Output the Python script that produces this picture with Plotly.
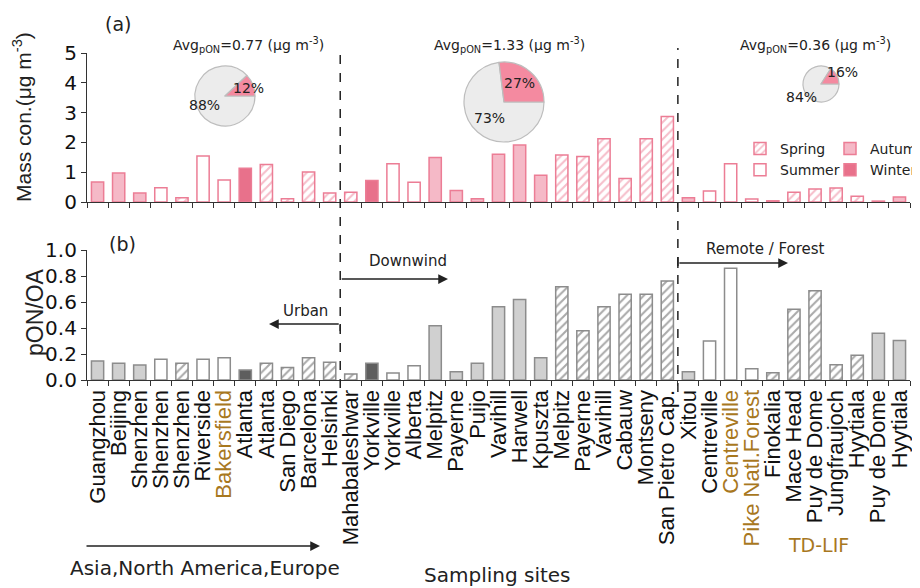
import plotly.graph_objects as go

# ---------------- data ----------------
sites = ["Guangzhou", "Beijing", "Shenzhen", "Shenzhen", "Shenzhen", "Riverside", "Bakersfield",
         "Atlanta", "Atlanta", "San Diego", "Barcelona", "Helsinki",
         "Mahabaleshwar", "Yorkville", "Yorkville", "Alberta", "Melpitz", "Payerne", "Puijo",
         "Vavihill", "Harwell", "Kpuszta", "Melpitz", "Payerne", "Vavihill", "Cabauw",
         "Montseny", "San Pietro Cap.",
         "Xitou", "Centreville", "Centreville", "Pike Natl.Forest", "Finokalia", "Mace Head",
         "Puy de Dome", "Jungfraujoch", "Hyytiala", "Puy de Dome", "Hyytiala"]
highlight_sites = [6, 30, 31]  # TD-LIF sites (brown labels)
seasons = ["Autumn", "Autumn", "Autumn", "Summer", "Spring", "Summer", "Summer", "Winter",
           "Spring", "Spring", "Spring", "Spring",
           "Spring", "Winter", "Summer", "Summer", "Autumn", "Autumn", "Autumn", "Autumn",
           "Autumn", "Autumn", "Spring", "Spring", "Spring", "Spring", "Spring", "Spring",
           "Autumn", "Summer", "Summer", "Summer", "Spring", "Spring", "Spring", "Spring",
           "Spring", "Autumn", "Autumn"]
mass_con = [0.67, 0.97, 0.30, 0.48, 0.14, 1.54, 0.74, 1.13, 1.26, 0.11, 1.01, 0.30,
            0.33, 0.72, 1.28, 0.66, 1.49, 0.39, 0.11, 1.60, 1.91, 0.90, 1.58, 1.53, 2.12,
            0.79, 2.12, 2.87,
            0.14, 0.37, 1.28, 0.10, 0.04, 0.33, 0.44, 0.47, 0.19, 0.03, 0.17]
pon_oa = [0.146, 0.128, 0.115, 0.159, 0.128, 0.159, 0.172, 0.077, 0.128, 0.097, 0.172, 0.136,
          0.046, 0.128, 0.054, 0.110, 0.418, 0.064, 0.128, 0.564, 0.620, 0.172, 0.718, 0.379,
          0.564, 0.659, 0.659, 0.762,
          0.064, 0.300, 0.859, 0.087, 0.056, 0.544, 0.687, 0.118, 0.190, 0.359, 0.303]
group_sizes = [12, 16, 11]
group_avg = [0.77, 1.33, 0.36]
pie_pon_pct = [12, 27, 16]
pie_other_pct = [88, 73, 84]
season_order = ["Spring", "Summer", "Autumn", "Winter"]
season_legend_names = {"Spring": "Spring", "Summer": "Summer", "Autumn": "Autum", "Winter": "Winter"}

# ---------------- layout helpers (page pixel coords) ----------------
PAGE_W, PAGE_H = 920, 588
OFF = 8                      # default body margin of the html page
W_FIG, H_FIG = PAGE_W - OFF, PAGE_H - OFF
L, R, T, B = 87, 910, 53, 380
PW, PH = R - L, B - T
def px_x(p): return (p - L) / PW
def px_y(p): return (B - p) / PH
top_dom = [px_y(202), 1.0]
bot_dom = [0.0, px_y(250)]

PINK = "#ec7d95"
styles_top = {
    "Spring": dict(color="white", pattern=dict(shape="/", fgcolor=PINK, bgcolor="white", size=6, solidity=0.35)),
    "Summer": dict(color="white"),
    "Autumn": dict(color="#f5b9c7"),
    "Winter": dict(color="#e8718b"),
}
GLINE = "#8c8c8c"
styles_bot = {
    "Spring": dict(color="white", pattern=dict(shape="/", fgcolor="#555555", bgcolor="white", size=6, solidity=0.35)),
    "Summer": dict(color="white"),
    "Autumn": dict(color="#d0d0d0"),
    "Winter": dict(color="#5e5e5e"),
}

fig = go.Figure()
BW = 0.58
for s in season_order:
    idx = [i for i, v in enumerate(seasons) if v == s]
    fig.add_trace(go.Bar(
        x=idx, y=[mass_con[i] for i in idx], width=BW, name=season_legend_names[s],
        xaxis="x2", yaxis="y2",
        marker=dict(**styles_top[s], line=dict(color=PINK, width=1.5)),
        legend="legend" if s in ("Spring", "Summer") else "legend2",
        showlegend=True, hoverinfo="skip"))
for s in season_order:
    idx = [i for i, v in enumerate(seasons) if v == s]
    fig.add_trace(go.Bar(
        x=idx, y=[pon_oa[i] for i in idx], width=BW, name=s,
        xaxis="x", yaxis="y",
        marker=dict(**styles_bot[s], line=dict(color=GLINE, width=1.5)),
        showlegend=False, hoverinfo="skip"))

# pies (pON slice ends at 3 o'clock, opening upward)
pie_geom = [(225, 96, 30), (504, 102, 40), (821, 84, 18)]
for k, (cx, cy, r) in enumerate(pie_geom):
    fig.add_trace(go.Pie(
        values=[pie_other_pct[k], pie_pon_pct[k]], labels=["other", "pON"],
        sort=False, direction="clockwise", rotation=90,
        marker=dict(colors=["#ececec", "#f48aa0"], line=dict(color="#bdbdbd", width=1.2)),
        textinfo="none", showlegend=False, hoverinfo="skip",
        domain=dict(x=[px_x(cx - r), px_x(cx + r)], y=[px_y(cy + r), px_y(cy - r)])))

FONT_H = "DejaVu Sans"
FONT_V = "Liberation Sans, Arial"
ann = []
def txt(px, py, text, size, family=FONT_H, color="#222", angle=0):
    ann.append(dict(x=px_x(px), y=px_y(py), xref="paper", yref="paper", showarrow=False,
                    xanchor="center", yanchor="middle", textangle=angle, text=text,
                    font=dict(family=family, size=size, color=color)))

# pie labels
pie_lab_pos = [((248, 88), (204, 105)), ((519, 83), (489, 118)), ((842, 72), (801, 97))]
for k, (p1, p2) in enumerate(pie_lab_pos):
    txt(p1[0], p1[1], f"{pie_pon_pct[k]}%", 14)
    txt(p2[0], p2[1], f"{pie_other_pct[k]}%", 14)
avg_x = [248, 510, 815]
for k, ax_ in enumerate(avg_x):
    txt(ax_, 45, f"Avg<sub>pON</sub>={group_avg[k]:.2f} (μg m<sup>-3</sup>)", 14)
# panel labels
txt(118, 24, "(a)", 19)
txt(122, 244, "(b)", 19)
# y titles
txt(22, 117, "Mass con.(μg m<sup>-3</sup>)", 21, family=FONT_V, angle=-90)
txt(35, 312, "pON/OA", 23, family=FONT_V, angle=-90)
# region labels
txt(305, 311, "Urban", 15)
txt(408, 261, "Downwind", 15)
txt(765, 249, "Remote / Forest", 15)
txt(205, 568, "Asia,North America,Europe", 20)
txt(497, 575, "Sampling sites", 20)
txt(818, 545, "TD-LIF", 19, color="#a8781f")

b1 = group_sizes[0] - 0.5
b2 = group_sizes[0] + group_sizes[1] - 0.5
def ax_x(p): return (p - L) / PW * len(sites) - 0.5
def ax_y(p): return (B - p) / (B - 250)

def arrow(x_head, x_tail, py):
    ann.append(dict(x=x_head, y=ax_y(py), ax=x_tail, ay=ax_y(py), xref="x", yref="y",
                    axref="x", ayref="y", showarrow=True, arrowhead=2, arrowsize=1.3,
                    arrowwidth=1.5, arrowcolor="#222", text=""))
arrow(ax_x(269), b1, 324)
arrow(ax_x(448), b1, 279)
arrow(ax_x(788), b2, 263)
ann.append(dict(x=px_x(320), y=px_y(546), ax=-(320 - 85), ay=0, xref="paper", yref="paper",
                axref="pixel", ayref="pixel", showarrow=True, arrowhead=2, arrowsize=1.3,
                arrowwidth=1.5, arrowcolor="#222", text=""))

shapes = []
for bx, ytop, ybot in [(b1, 48, 388), (b2, 48, 392)]:
    shapes.append(dict(type="line", xref="x", yref="paper", x0=bx, x1=bx,
                       y0=px_y(ybot), y1=px_y(ytop), line=dict(color="#222", width=1.5, dash="dash")))
shapes.append(dict(type="line", xref="x", yref="y", x0=b1, x1=b1, y0=ax_y(324), y1=ax_y(331),
                   line=dict(color="#222", width=1.5)))
shapes.append(dict(type="line", xref="x", yref="y", x0=b2, x1=b2, y0=ax_y(257), y1=ax_y(268),
                   line=dict(color="#222", width=1.5)))

ticktext = []
for i, s in enumerate(sites):
    if i in highlight_sites:
        ticktext.append(f'<span style="color:#a8781f">{s}</span>')
    else:
        ticktext.append(s)

xr = [-0.5, len(sites) - 0.5]
bound_ticks = [i - 0.5 for i in range(len(sites) + 1)]
common_x = dict(range=xr, showline=True, linecolor="#333", linewidth=1.2, zeroline=False,
                showgrid=False, ticks="",
                minor=dict(tickmode="array", tickvals=bound_ticks, ticks="outside", ticklen=5,
                           tickcolor="#333", tickwidth=1.2, showgrid=False))

fig.update_layout(
    width=W_FIG, height=H_FIG,
    margin=dict(l=L - OFF, r=PAGE_W - R, t=T - OFF, b=PAGE_H - B, autoexpand=False),
    paper_bgcolor="white", plot_bgcolor="white",
    barmode="overlay",
    xaxis=dict(**common_x, anchor="y", tickmode="array", tickvals=list(range(len(sites))),
               ticktext=ticktext, tickangle=-90,
               tickfont=dict(family=FONT_V, size=22, color="#111")),
    xaxis2=dict(**common_x, anchor="y2", matches="x", showticklabels=False),
    yaxis=dict(domain=bot_dom, range=[0, 1.0], anchor="x", tickmode="array",
               tickvals=[0, 0.2, 0.4, 0.6, 0.8, 1.0], ticktext=["0.0", "0.2", "0.4", "0.6", "0.8", "1.0"],
               ticks="outside", ticklen=5, tickcolor="#333", showline=True, linecolor="#333",
               linewidth=1.2, showgrid=False, zeroline=False,
               tickfont=dict(family=FONT_H, size=20, color="#111")),
    yaxis2=dict(domain=top_dom, range=[0, 5], anchor="x2", tickmode="array", tickvals=[0, 1, 2, 3, 4, 5],
                ticks="outside", ticklen=5, tickcolor="#333", showline=True, linecolor="#333",
                linewidth=1.2, showgrid=False, zeroline=False,
                tickfont=dict(family=FONT_H, size=20, color="#111")),
    legend=dict(x=px_x(740), y=px_y(133), xanchor="left", yanchor="top", orientation="v",
                bgcolor="rgba(0,0,0,0)", itemwidth=30, tracegroupgap=0,
                font=dict(family=FONT_H, size=14, color="#222")),
    legend2=dict(x=px_x(830), y=px_y(133), xanchor="left", yanchor="top", orientation="v",
                 bgcolor="rgba(0,0,0,0)", itemwidth=30, tracegroupgap=0,
                 font=dict(family=FONT_H, size=14, color="#222")),
    annotations=ann, shapes=shapes,
)

fig.write_html("out.html")
